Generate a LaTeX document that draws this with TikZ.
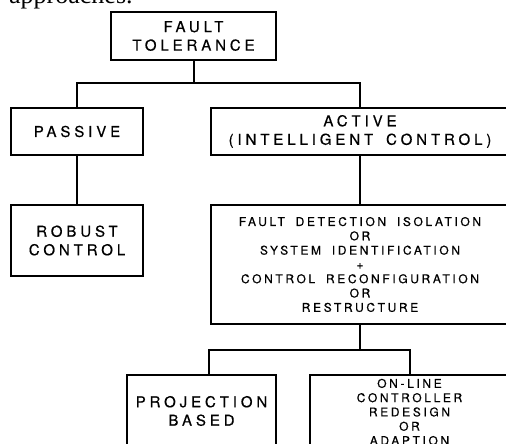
\documentclass[tikz,border=0pt]{standalone}
\usepackage{fontspec}
\setmainfont{Liberation Serif}
\newfontfamily\boxfont[LetterSpace=26,WordSpace=1.6,FakeBold=0.5]{TeX Gyre Heros}
\newfontfamily\smallboxfont[LetterSpace=22,WordSpace=1.8,FakeBold=0.5]{TeX Gyre Heros}
\tikzset{
  box/.style={draw, line width=2pt, inner sep=0pt, align=center,
    font=\boxfont\fontsize{15}{18.5}\selectfont},
  smallbox/.style={box, font=\smallboxfont\fontsize{12}{14.3}\selectfont},
  link/.style={line width=2pt},
}
\begin{document}
\begin{tikzpicture}[x=1pt,y=-1pt]
\useasboundingbox (0,0) rectangle (506,444);
\clip (0,0) rectangle (506,444);
\node[anchor=base west, inner sep=0pt, font=\fontsize{26}{30}\selectfont] (cap) at (9,4) {approaches.};
\node[box, minimum width=165pt, minimum height=48pt] (ft) at (193.5,36) {FAULT\\TOLERANCE};
\node[box, minimum width=132pt, minimum height=47pt] (passive) at (77,131.5) {PASSIVE};
\node[box, minimum width=298pt, minimum height=47pt] (active) at (360,131.5) {ACTIVE\\(INTELLIGENT CONTROL)};
\node[box, minimum width=132pt, minimum height=71pt] (robust) at (77,240.5) {ROBUST\\CONTROL};
\node[smallbox, minimum width=298pt, minimum height=119pt] (fdi) at (360,264.5)
  {FAULT DETECTION ISOLATION\\OR\\SYSTEM IDENTIFICATION\\+\\CONTROL RECONFIGURATION\\OR\\RESTRUCTURE};
\node[box, minimum width=149pt, minimum height=72pt] (proj) at (201.5,411) {PROJECTION\\BASED};
\node[smallbox, minimum width=199pt, minimum height=74pt] (online) at (409.5,412)
  {ON-LINE\\CONTROLLER\\REDESIGN\\OR\\ADAPTION};
\coordinate (bar1) at (0,83);
\coordinate (bar2) at (0,350);
\coordinate (pj) at (209,0);
\draw[link] (ft.south) -- (ft.south |- bar1);
\draw[link] (passive.north) |- (active.north |- bar1) -- (active.north);
\draw[link] (passive) -- (robust);
\draw[link] (active) -- (fdi);
\draw[link] (fdi.south) -- (fdi.south |- bar2);
\draw[link] (pj |- proj.north) |- (online.north |- bar2) -- (online.north);
\end{tikzpicture}
\end{document}
